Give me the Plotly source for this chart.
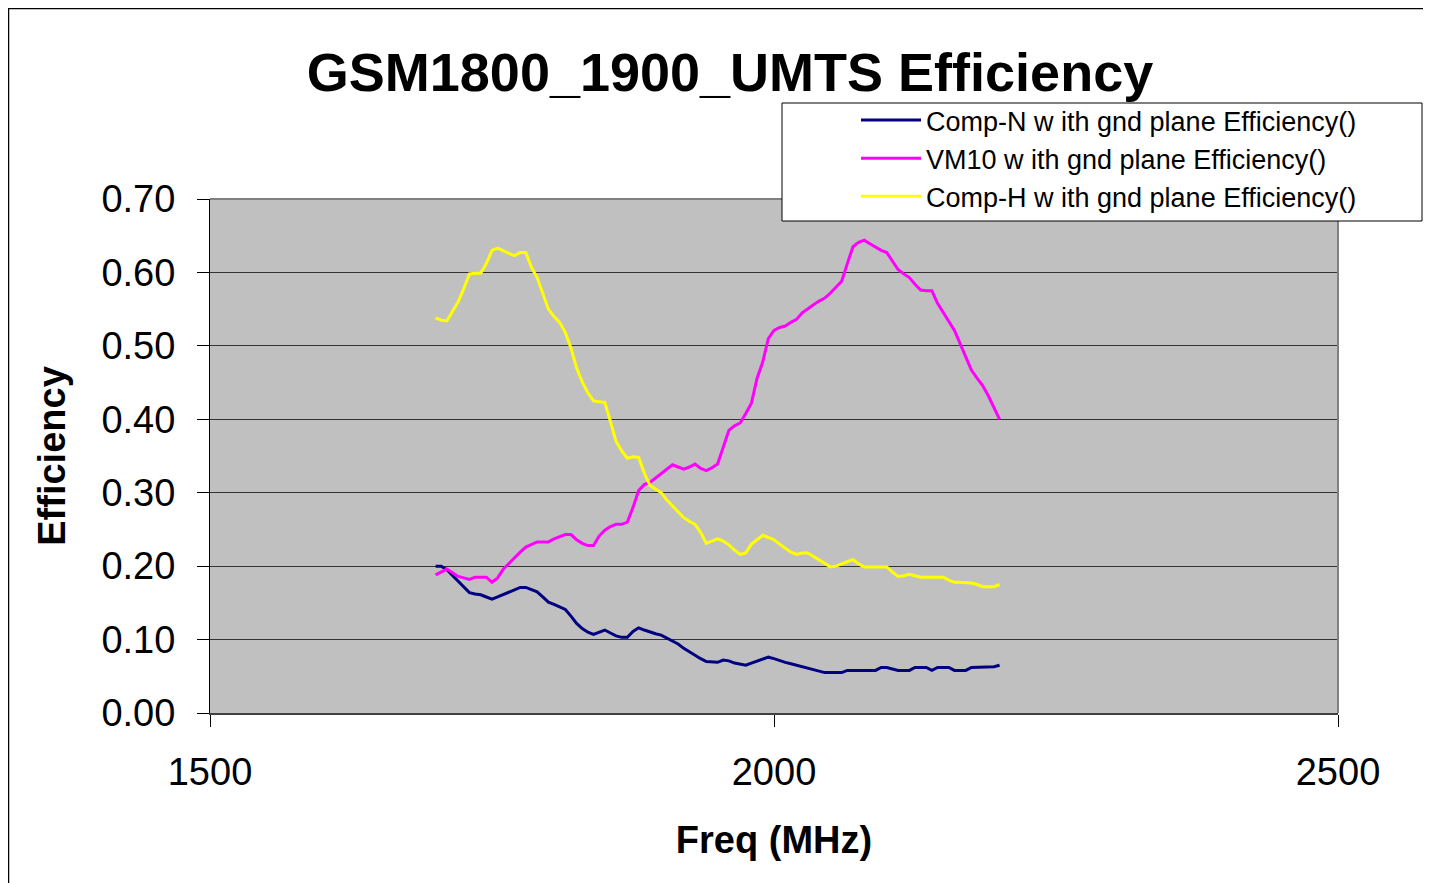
import plotly.graph_objects as go

# frequency points (MHz)
freq = list(range(1700, 2205, 5))

comp_n = [0.200, 0.200, 0.195, 0.187, 0.179, 0.171, 0.164, 0.162, 0.161, 0.158,
          0.155, 0.158, 0.161, 0.164, 0.168, 0.171, 0.171, 0.168, 0.165, 0.158,
          0.151, 0.148, 0.144, 0.141, 0.132, 0.122, 0.115, 0.110, 0.107, 0.110,
          0.113, 0.109, 0.105, 0.103, 0.103, 0.111, 0.116, 0.113, 0.110, 0.108,
          0.106, 0.102, 0.099, 0.094, 0.088, 0.083, 0.079, 0.074, 0.070, 0.069,
          0.069, 0.072, 0.071, 0.068, 0.066, 0.065, 0.068, 0.071, 0.074, 0.076,
          0.074, 0.071, 0.069, 0.067, 0.065, 0.063, 0.061, 0.059, 0.057, 0.055,
          0.055, 0.055, 0.055, 0.058, 0.058, 0.058, 0.058, 0.058, 0.058, 0.062,
          0.062, 0.060, 0.058, 0.058, 0.058, 0.062, 0.062, 0.062, 0.058, 0.062,
          0.062, 0.062, 0.058, 0.058, 0.058, 0.062, 0.062, 0.062, 0.062, 0.063,
          0.065]

vm10 = [0.188, 0.192, 0.196, 0.191, 0.186, 0.184, 0.182, 0.185, 0.185, 0.185,
        0.178, 0.184, 0.196, 0.204, 0.211, 0.219, 0.226, 0.230, 0.233, 0.233,
        0.233, 0.237, 0.240, 0.243, 0.243, 0.236, 0.231, 0.228, 0.228, 0.241,
        0.249, 0.254, 0.257, 0.257, 0.260, 0.280, 0.303, 0.311, 0.314, 0.320,
        0.326, 0.332, 0.338, 0.335, 0.332, 0.335, 0.339, 0.333, 0.330, 0.334,
        0.339, 0.362, 0.385, 0.391, 0.395, 0.408, 0.422, 0.456, 0.478, 0.510,
        0.521, 0.525, 0.527, 0.532, 0.536, 0.545, 0.551, 0.556, 0.561, 0.565,
        0.572, 0.580, 0.588, 0.612, 0.635, 0.641, 0.644, 0.639, 0.634, 0.630,
        0.627, 0.615, 0.604, 0.598, 0.593, 0.584, 0.576, 0.575, 0.575, 0.558,
        0.545, 0.532, 0.521, 0.503, 0.484, 0.467, 0.456, 0.446, 0.432, 0.416,
        0.400]

comp_h = [0.538, 0.535, 0.534, 0.548, 0.560, 0.578, 0.598, 0.599, 0.599, 0.612,
          0.630, 0.633, 0.629, 0.626, 0.623, 0.627, 0.627, 0.607, 0.593, 0.570,
          0.550, 0.540, 0.532, 0.518, 0.497, 0.470, 0.451, 0.436, 0.425, 0.424,
          0.423, 0.397, 0.370, 0.357, 0.347, 0.349, 0.348, 0.327, 0.310, 0.305,
          0.300, 0.290, 0.282, 0.274, 0.266, 0.261, 0.257, 0.246, 0.231, 0.234,
          0.237, 0.234, 0.229, 0.222, 0.216, 0.218, 0.230, 0.236, 0.242, 0.239,
          0.236, 0.230, 0.224, 0.219, 0.216, 0.218, 0.218, 0.213, 0.208, 0.203,
          0.199, 0.200, 0.203, 0.206, 0.209, 0.203, 0.199, 0.199, 0.199, 0.199,
          0.199, 0.192, 0.186, 0.187, 0.189, 0.187, 0.185, 0.185, 0.185, 0.185,
          0.185, 0.181, 0.178, 0.178, 0.178, 0.177, 0.175, 0.172, 0.172, 0.172,
          0.175]

names = ["Comp-N w ith gnd plane Efficiency()",
         "VM10 w ith gnd plane Efficiency()",
         "Comp-H w ith gnd plane Efficiency()"]
colors = ["#000080", "#FF00FF", "#FFFF00"]

font = "Liberation Sans, Arial, sans-serif"

# figure size / plot area in px (page has an 8px body margin)
W, H = 1423, 875
L, T, PW, PH = 202, 191, 1128, 514


def px(x):
    return (x - L) / PW


def py(y):
    return (T + PH - y) / PH


fig = go.Figure()
for name, vals, col in zip(names, [comp_n, vm10, comp_h], colors):
    fig.add_trace(go.Scatter(x=freq, y=vals, mode="lines", name=name,
                             line=dict(color=col, width=3)))

fig.update_layout(
    width=W, height=H,
    margin=dict(l=L, r=W - L - PW, t=T, b=H - T - PH),
    paper_bgcolor="white", plot_bgcolor="#C0C0C0",
    font=dict(family=font, color="black"),
    title=dict(text="<b>GSM1800_1900_UMTS Efficiency</b>", font=dict(size=54),
               x=722 / W, xanchor="center", y=1 - 64 / H, yanchor="middle"),
    showlegend=True,
    legend=dict(x=px(848), y=py(88), xanchor="left", yanchor="top",
                bgcolor="rgba(0,0,0,0)", borderwidth=0,
                font=dict(size=27), tracegroupgap=0, itemwidth=60),
)

fig.update_xaxes(range=[1500, 2500], tickvals=[1500, 2000, 2500],
                 ticks="outside", ticklen=12, tickcolor="black", tickwidth=1,
                 tickfont=dict(size=38), showgrid=False, zeroline=False,
                 showline=True, linecolor="#404040", linewidth=2,
                 ticklabelstandoff=12,
                 title=dict(text="<b>Freq (MHz)</b>", font=dict(size=38), standoff=35))
fig.update_yaxes(range=[0, 0.7], dtick=0.1, tickformat=".2f",
                 ticks="outside", ticklen=12, tickcolor="black", tickwidth=1,
                 tickfont=dict(size=38), showgrid=True, gridcolor="#333333", gridwidth=1,
                 zeroline=False, showline=True, linecolor="black", linewidth=1,
                 ticklabelstandoff=14,
                 title=dict(text="<b>Efficiency</b>", font=dict(size=38), standoff=24))

# plot area border (top and right, grey)
fig.add_shape(type="line", xref="paper", yref="paper", x0=0, x1=1, y0=1, y1=1,
              line=dict(color="#808080", width=2))
fig.add_shape(type="line", xref="paper", yref="paper", x0=1, x1=1, y0=0, y1=1,
              line=dict(color="#808080", width=2))
# outer chart border
fig.add_shape(type="rect", xref="paper", yref="paper",
              x0=px(0.5), x1=px(W + 20), y0=py(H + 20), y1=py(0.5),
              line=dict(color="black", width=1.5), layer="below")
# legend box
fig.add_shape(type="rect", xref="paper", yref="paper",
              x0=px(774), x1=px(1414), y0=py(213), y1=py(95),
              line=dict(color="black", width=1), fillcolor="white", layer="above")

fig.write_html("out.html")
